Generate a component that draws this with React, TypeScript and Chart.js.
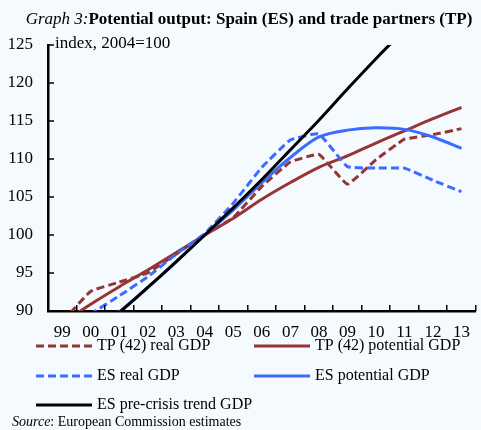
import React, { useEffect, useRef } from "react";
import { Chart, registerables } from "chart.js";

Chart.register(...registerables);

const categories = ["99", "00", "01", "02", "03", "04", "05", "06", "07", "08", "09", "10", "11", "12", "13"];
const tpReal = [88.6, 92.6, 93.8, 95.0, 97.5, 100, 102.3, 106.4, 109.6, 110.6, 106.7, 109.9, 112.6, 113.2, 114.0];
const tpPotential = [88.4, 90.9, 93.2, 95.4, 97.7, 100, 102.2, 104.7, 106.9, 108.9, 110.4, 112.1, 113.7, 115.3, 116.8];
const esReal = [86.5, 89.6, 92.0, 94.5, 97.5, 100.2, 104.2, 108.9, 112.5, 113.3, 109.0, 108.8, 108.8, 107.2, 105.7];
const esPotential = [84.5, 87.3, 89.9, 93.1, 96.5, 100, 103.3, 106.9, 110.2, 112.9, 113.8, 114.1, 113.9, 112.9, 111.4];
const esTrend = [83.6, 86.7, 89.8, 93.1, 96.5, 100, 103.6, 107.3, 111.2, 115.1, 119.2, 123.2, 127.0, null, null];
const yTickValues = [90, 95, 100, 105, 110, 115, 120, 125];

const seriesNames = [
  "TP (42) real GDP",
  "TP (42) potential GDP",
  "ES real GDP",
  "ES potential GDP",
  "ES pre-crisis trend GDP",
];

const RED = "#963634";
const BLUE = "#3B6CFF";
const FONT = "'Liberation Serif', 'Times New Roman', serif";

const decorPlugin = {
  id: "decor",
  afterDraw(chart: any) {
    const ctx = chart.ctx as CanvasRenderingContext2D;
    const area = chart.chartArea;
    const y = chart.scales.y;
    ctx.save();
    // inward ticks
    ctx.strokeStyle = "#000";
    ctx.lineWidth = 1.5;
    const n = categories.length;
    const step = (area.right - area.left) / n;
    for (let i = 1; i <= n; i++) {
      const px = Math.round(area.left + i * step) - 0.25;
      ctx.beginPath();
      ctx.moveTo(px, area.bottom);
      ctx.lineTo(px, area.bottom - 6);
      ctx.stroke();
    }
    yTickValues.forEach((v) => {
      const py = Math.round(y.getPixelForValue(v));
      ctx.beginPath();
      ctx.moveTo(area.left, py);
      ctx.lineTo(area.left + 6, py);
      ctx.stroke();
    });

    // title
    ctx.fillStyle = "#000";
    ctx.textBaseline = "alphabetic";
    ctx.textAlign = "left";
    const t1 = "Graph 3:";
    const t2 = "Potential output: Spain (ES) and trade partners (TP)";
    ctx.font = `italic 17px ${FONT}`;
    const w1 = ctx.measureText(t1).width;
    ctx.font = `bold 17px ${FONT}`;
    const w2 = ctx.measureText(t2).width;
    const tx = 249 - (w1 + w2) / 2;
    ctx.font = `italic 17px ${FONT}`;
    ctx.fillText(t1, tx, 24);
    ctx.font = `bold 17px ${FONT}`;
    ctx.fillText(t2, tx + w1, 24);

    // axis unit label
    ctx.font = `17px ${FONT}`;
    ctx.textBaseline = "middle";
    ctx.fillText("index, 2004=100", 55, 44);

    // legend
    const ds = chart.data.datasets;
    const cols = [36, 254];
    const rows = [346, 376, 405];
    ds.forEach((d: any, i: number) => {
      const cx = cols[i % 2];
      const cy = rows[Math.floor(i / 2)];
      ctx.strokeStyle = d.borderColor;
      ctx.lineWidth = d.borderWidth;
      ctx.setLineDash(d.borderDash || []);
      ctx.beginPath();
      ctx.moveTo(cx, cy);
      ctx.lineTo(cx + 56, cy);
      ctx.stroke();
      ctx.setLineDash([]);
      ctx.fillStyle = "#000";
      ctx.font = `16px ${FONT}`;
      ctx.textBaseline = "middle";
      ctx.fillText(d.label, cx + 61, cy);
    });

    // source
    ctx.textBaseline = "alphabetic";
    ctx.font = `italic 14px ${FONT}`;
    const s1 = "Source";
    ctx.fillText(s1, 12, 426);
    const sw = ctx.measureText(s1).width;
    ctx.font = `14px ${FONT}`;
    ctx.fillText(": European Commission estimates", 12 + sw, 426);
    ctx.restore();
  },
};

export default function App() {
  const ref = useRef<HTMLCanvasElement>(null);
  useEffect(() => {
    document.body.style.margin = "0";
    document.body.style.background = "#F5FAFF";
    const canvas = ref.current!;
    const mk = (label: string, data: (number | null)[], color: string, dashed: boolean, tension: number, order: number) => ({
      label,
      data,
      borderColor: color,
      backgroundColor: color,
      borderWidth: 3,
      borderDash: dashed ? [8, 4] : [],
      pointRadius: 0,
      tension,
      fill: false,
      order,
    });
    const chart = new Chart(canvas, {
      type: "line",
      data: {
        labels: categories,
        datasets: [
          mk(seriesNames[0], tpReal, RED, true, 0.1, 4),
          mk(seriesNames[1], tpPotential, RED, false, 0.3, 3),
          mk(seriesNames[2], esReal, BLUE, true, 0.1, 2),
          mk(seriesNames[3], esPotential, BLUE, false, 0.3, 1),
          mk(seriesNames[4], esTrend, "#000000", false, 0.4, 0),
        ],
      },
      options: {
        animation: false,
        responsive: false,
        maintainAspectRatio: false,
        devicePixelRatio: 1,
        layout: { padding: { left: 0, right: 1, top: 45, bottom: 0 } },
        plugins: {
          legend: { display: false },
          title: { display: false },
          tooltip: { enabled: false },
        },
        scales: {
          x: {
            type: "category",
            offset: true,
            grid: { display: false, drawTicks: false },
            border: { display: true, color: "#000", width: 2.5 },
            ticks: {
              color: "#000",
              font: { family: FONT, size: 17 },
              padding: 11,
              maxRotation: 0,
              autoSkip: false,
            },
            afterFit: (s: any) => {
              s.height = 119;
            },
          },
          y: {
            min: 90,
            max: 125,
            grid: { display: false, drawTicks: false },
            border: { display: true, color: "#000", width: 2.5 },
            ticks: {
              stepSize: 5,
              color: "#000",
              font: { family: FONT, size: 17 },
              padding: 15,
            },
            afterFit: (s: any) => {
              s.width = 48;
            },
          },
        },
      },
      plugins: [decorPlugin],
    });
    return () => chart.destroy();
  }, []);
  return (
    <canvas
      ref={ref}
      width={481}
      height={430}
      style={{ display: "block", width: 481, height: 430, background: "#F5FAFF" }}
    />
  );
}
